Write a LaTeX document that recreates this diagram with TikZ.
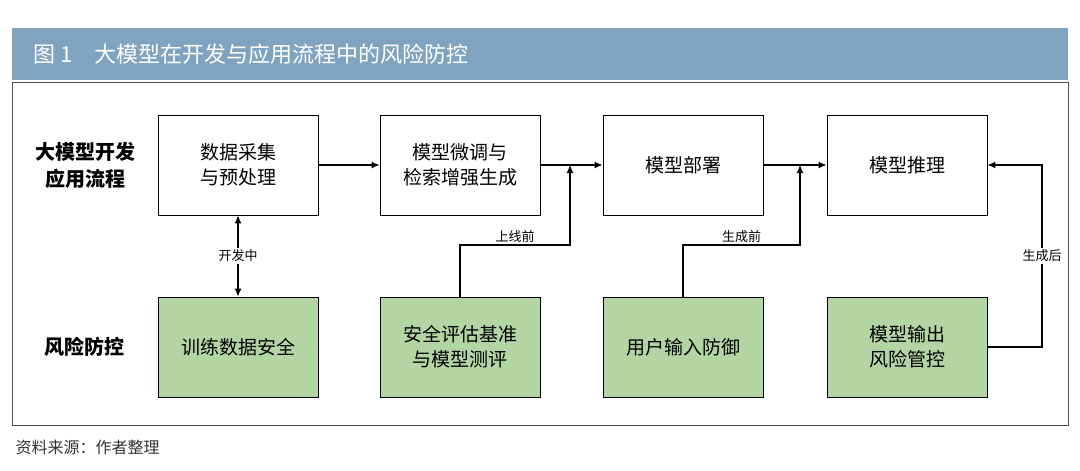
\documentclass[tikz,border=0pt]{standalone}
\usepackage{fontspec}
\setmainfont{Noto Sans CJK SC}
\usetikzlibrary{arrows.meta}
\definecolor{hdr}{HTML}{80A4C0}
\definecolor{grn}{HTML}{B3D5A4}
\begin{document}
\begin{tikzpicture}[x=1pt,y=-1pt,
 box/.style={draw=black,line width=0.9pt,minimum width=160pt,minimum height=100pt,align=center,font=\fontsize{19}{25}\selectfont,inner sep=0pt},
 gbox/.style={box,fill=grn},
 arr/.style={line width=1.1pt,-{Latex[length=8pt,width=7pt]}},
 lab/.style={font=\fontsize{13}{15}\selectfont,fill=white,inner sep=2pt},
 side/.style={font=\bfseries\fontsize{20}{27}\selectfont,align=center}]
\useasboundingbox (0,0) rectangle (1080,471);
\fill[white] (0,0) rectangle (1080,471);
\fill[hdr] (12,28) rectangle (1068,80);
\node[anchor=west,text=white,font=\fontsize{22}{26}\selectfont] (title) at (30,54) {图 1\quad 大模型在开发与应用流程中的风险防控};
\draw[line width=0.8pt,black!70] (12,82) rectangle (1068,425);
\node[anchor=west,font=\fontsize{16}{20}\selectfont,text=black!80] (src) at (12,447) {资料来源：作者整理};
\node[side] (l1) at (85,165) {大模型开发\\应用流程};
\node[side] (l2) at (85,347) {风险防控};
\node[box] (a) at (238,165) {数据采集\\与预处理};
\node[box] (b) at (460,165) {模型微调与\\检索增强生成};
\node[box] (c) at (683,165) {模型部署};
\node[box] (d) at (907,165) {模型推理};
\node[gbox] (ga) at (238,347) {训练数据安全};
\node[gbox] (gb) at (460,347) {安全评估基准\\与模型测评};
\node[gbox] (gc) at (683,347) {用户输入防御};
\node[gbox] (gd) at (907,347) {模型输出\\风险管控};
\draw[arr] (a) -- (b);
\draw[arr] (b) -- (c);
\draw[arr] (c) -- (d);
\draw[line width=1.1pt,{Latex[length=8pt,width=7pt]}-{Latex[length=8pt,width=7pt]}] (a) -- node[lab]{开发中} (ga);
\coordinate (p1) at (460,245); \coordinate (q1) at (570,245); \coordinate (r1) at (570,165);
\draw[arr] (gb.north) -- (p1) -- node[lab,above,fill=none]{上线前} (q1) -- (r1);
\coordinate (p2) at (683,245); \coordinate (q2) at (800,245); \coordinate (r2) at (800,165);
\draw[arr] (gc.north) -- (p2) -- node[lab,above,fill=none]{生成前} (q2) -- (r2);
\coordinate (p3) at (1042,347); \coordinate (q3) at (1042,165);
\draw[arr] (gd.east) -- (p3) -- node[lab]{生成后} (q3) -- (d.east);
\end{tikzpicture}
\end{document}
